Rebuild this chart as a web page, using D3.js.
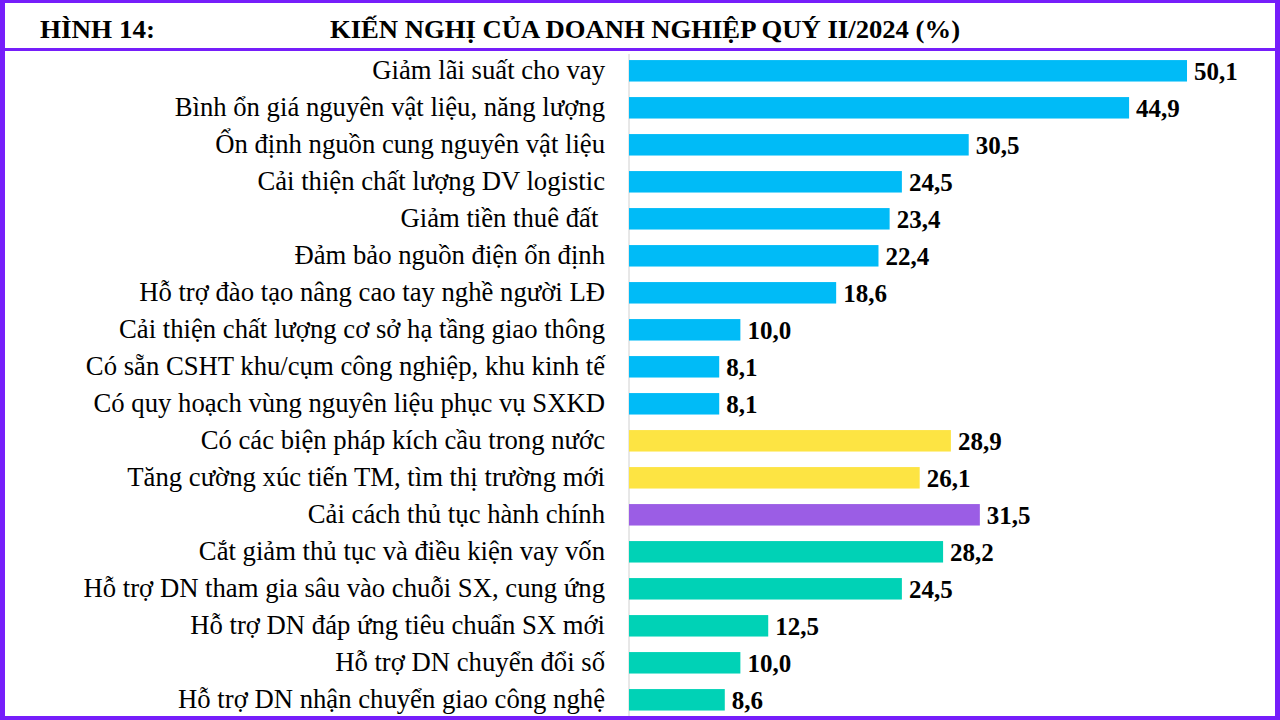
<!DOCTYPE html>
<html><head><meta charset="utf-8">
<script src="https://cdn.jsdelivr.net/npm/d3@7"></script>
<style>html,body{margin:0;padding:0;background:#fff;}svg{display:block;}</style>
</head><body>
<svg id="c" width="1280" height="720"></svg>
<script>
const categories = [
  "Giảm lãi suất cho vay",
  "Bình ổn giá nguyên vật liệu, năng lượng",
  "Ổn định nguồn cung nguyên vật liệu",
  "Cải thiện chất lượng DV logistic",
  "Giảm tiền thuê đất ",
  "Đảm bảo nguồn điện ổn định",
  "Hỗ trợ đào tạo nâng cao tay nghề người LĐ",
  "Cải thiện chất lượng cơ sở hạ tầng giao thông",
  "Có sẵn CSHT khu/cụm công nghiệp, khu kinh tế",
  "Có quy hoạch vùng nguyên liệu phục vụ SXKD",
  "Có các biện pháp kích cầu trong nước",
  "Tăng cường xúc tiến TM, tìm thị trường mới",
  "Cải cách thủ tục hành chính",
  "Cắt giảm thủ tục và điều kiện vay vốn",
  "Hỗ trợ DN tham gia sâu vào chuỗi SX, cung ứng",
  "Hỗ trợ DN đáp ứng tiêu chuẩn SX mới",
  "Hỗ trợ DN chuyển đổi số",
  "Hỗ trợ DN nhận chuyển giao công nghệ"
];
const values = [50.1, 44.9, 30.5, 24.5, 23.4, 22.4, 18.6, 10.0, 8.1, 8.1, 28.9, 26.1, 31.5, 28.2, 24.5, 12.5, 10.0, 8.6];
const groups = [0,0,0,0,0,0,0,0,0,0,1,1,2,3,3,3,3,3];
const groupColors = ["#00BBF7", "#FDE443", "#9B5DE5", "#00D2B6"];
const titleLeft = "HÌNH 14:";
const titleMain = "KIẾN NGHỊ CỦA DOANH NGHIỆP QUÝ II/2024 (%)";

const svg = d3.select("#c");
const border = "#761EFA";
const fmt = v => d3.format(".1f")(v).replace(".", ",");

const x = d3.scaleLinear().domain([0, 58]).range([629, 1275]);
const y = d3.scaleBand().domain(categories).range([52.3, 718.3]).paddingInner(0.42).paddingOuter(0.21);

// axis line
svg.append("line").attr("x1", x(0)).attr("x2", x(0)).attr("y1", 54).attr("y2", 720)
  .attr("stroke", "#d0d0d0").attr("stroke-width", 1);

const data = categories.map((c, i) => ({c, v: values[i], g: groups[i]}));

svg.selectAll("rect.bar").data(data).join("rect").attr("class", "bar")
  .attr("x", x(0)).attr("y", d => y(d.c))
  .attr("width", d => x(d.v) - x(0)).attr("height", y.bandwidth())
  .attr("fill", d => groupColors[d.g]);

const fontSerif = "'Liberation Serif','Times New Roman',serif";

svg.selectAll("text.cat").data(data).join("text").attr("class", "cat")
  .attr("x", 605).attr("y", d => y(d.c) + y.bandwidth() / 2 + 8)
  .attr("text-anchor", "end").attr("font-family", fontSerif).attr("font-size", 26.7)
  .attr("fill", "#000").style("white-space", "pre").text(d => d.c);

svg.selectAll("text.val").data(data).join("text").attr("class", "val")
  .attr("x", d => x(d.v) + 7).attr("y", d => y(d.c) + y.bandwidth() / 2 + 9)
  .attr("font-family", fontSerif).attr("font-size", 25).attr("font-weight", "bold")
  .attr("fill", "#000").text(d => fmt(d.v));

// header
svg.append("text").attr("x", 40).attr("y", 38).attr("font-family", fontSerif)
  .attr("font-size", 26).attr("font-weight", "bold").attr("textLength", 115)
  .attr("lengthAdjust", "spacingAndGlyphs").text(titleLeft);
svg.append("text").attr("x", 330).attr("y", 38).attr("font-family", fontSerif)
  .attr("font-size", 26).attr("font-weight", "bold").attr("textLength", 630)
  .attr("lengthAdjust", "spacingAndGlyphs").text(titleMain);

// borders
svg.append("rect").attr("x", 0).attr("y", 0).attr("width", 1280).attr("height", 3).attr("fill", border);
svg.append("rect").attr("x", 0).attr("y", 0).attr("width", 5).attr("height", 720).attr("fill", border);
svg.append("rect").attr("x", 1275).attr("y", 0).attr("width", 5).attr("height", 720).attr("fill", border);
svg.append("rect").attr("x", 0).attr("y", 716).attr("width", 1280).attr("height", 4).attr("fill", border);
svg.append("rect").attr("x", 0).attr("y", 48).attr("width", 1280).attr("height", 3).attr("fill", border);
</script>
</body></html>
